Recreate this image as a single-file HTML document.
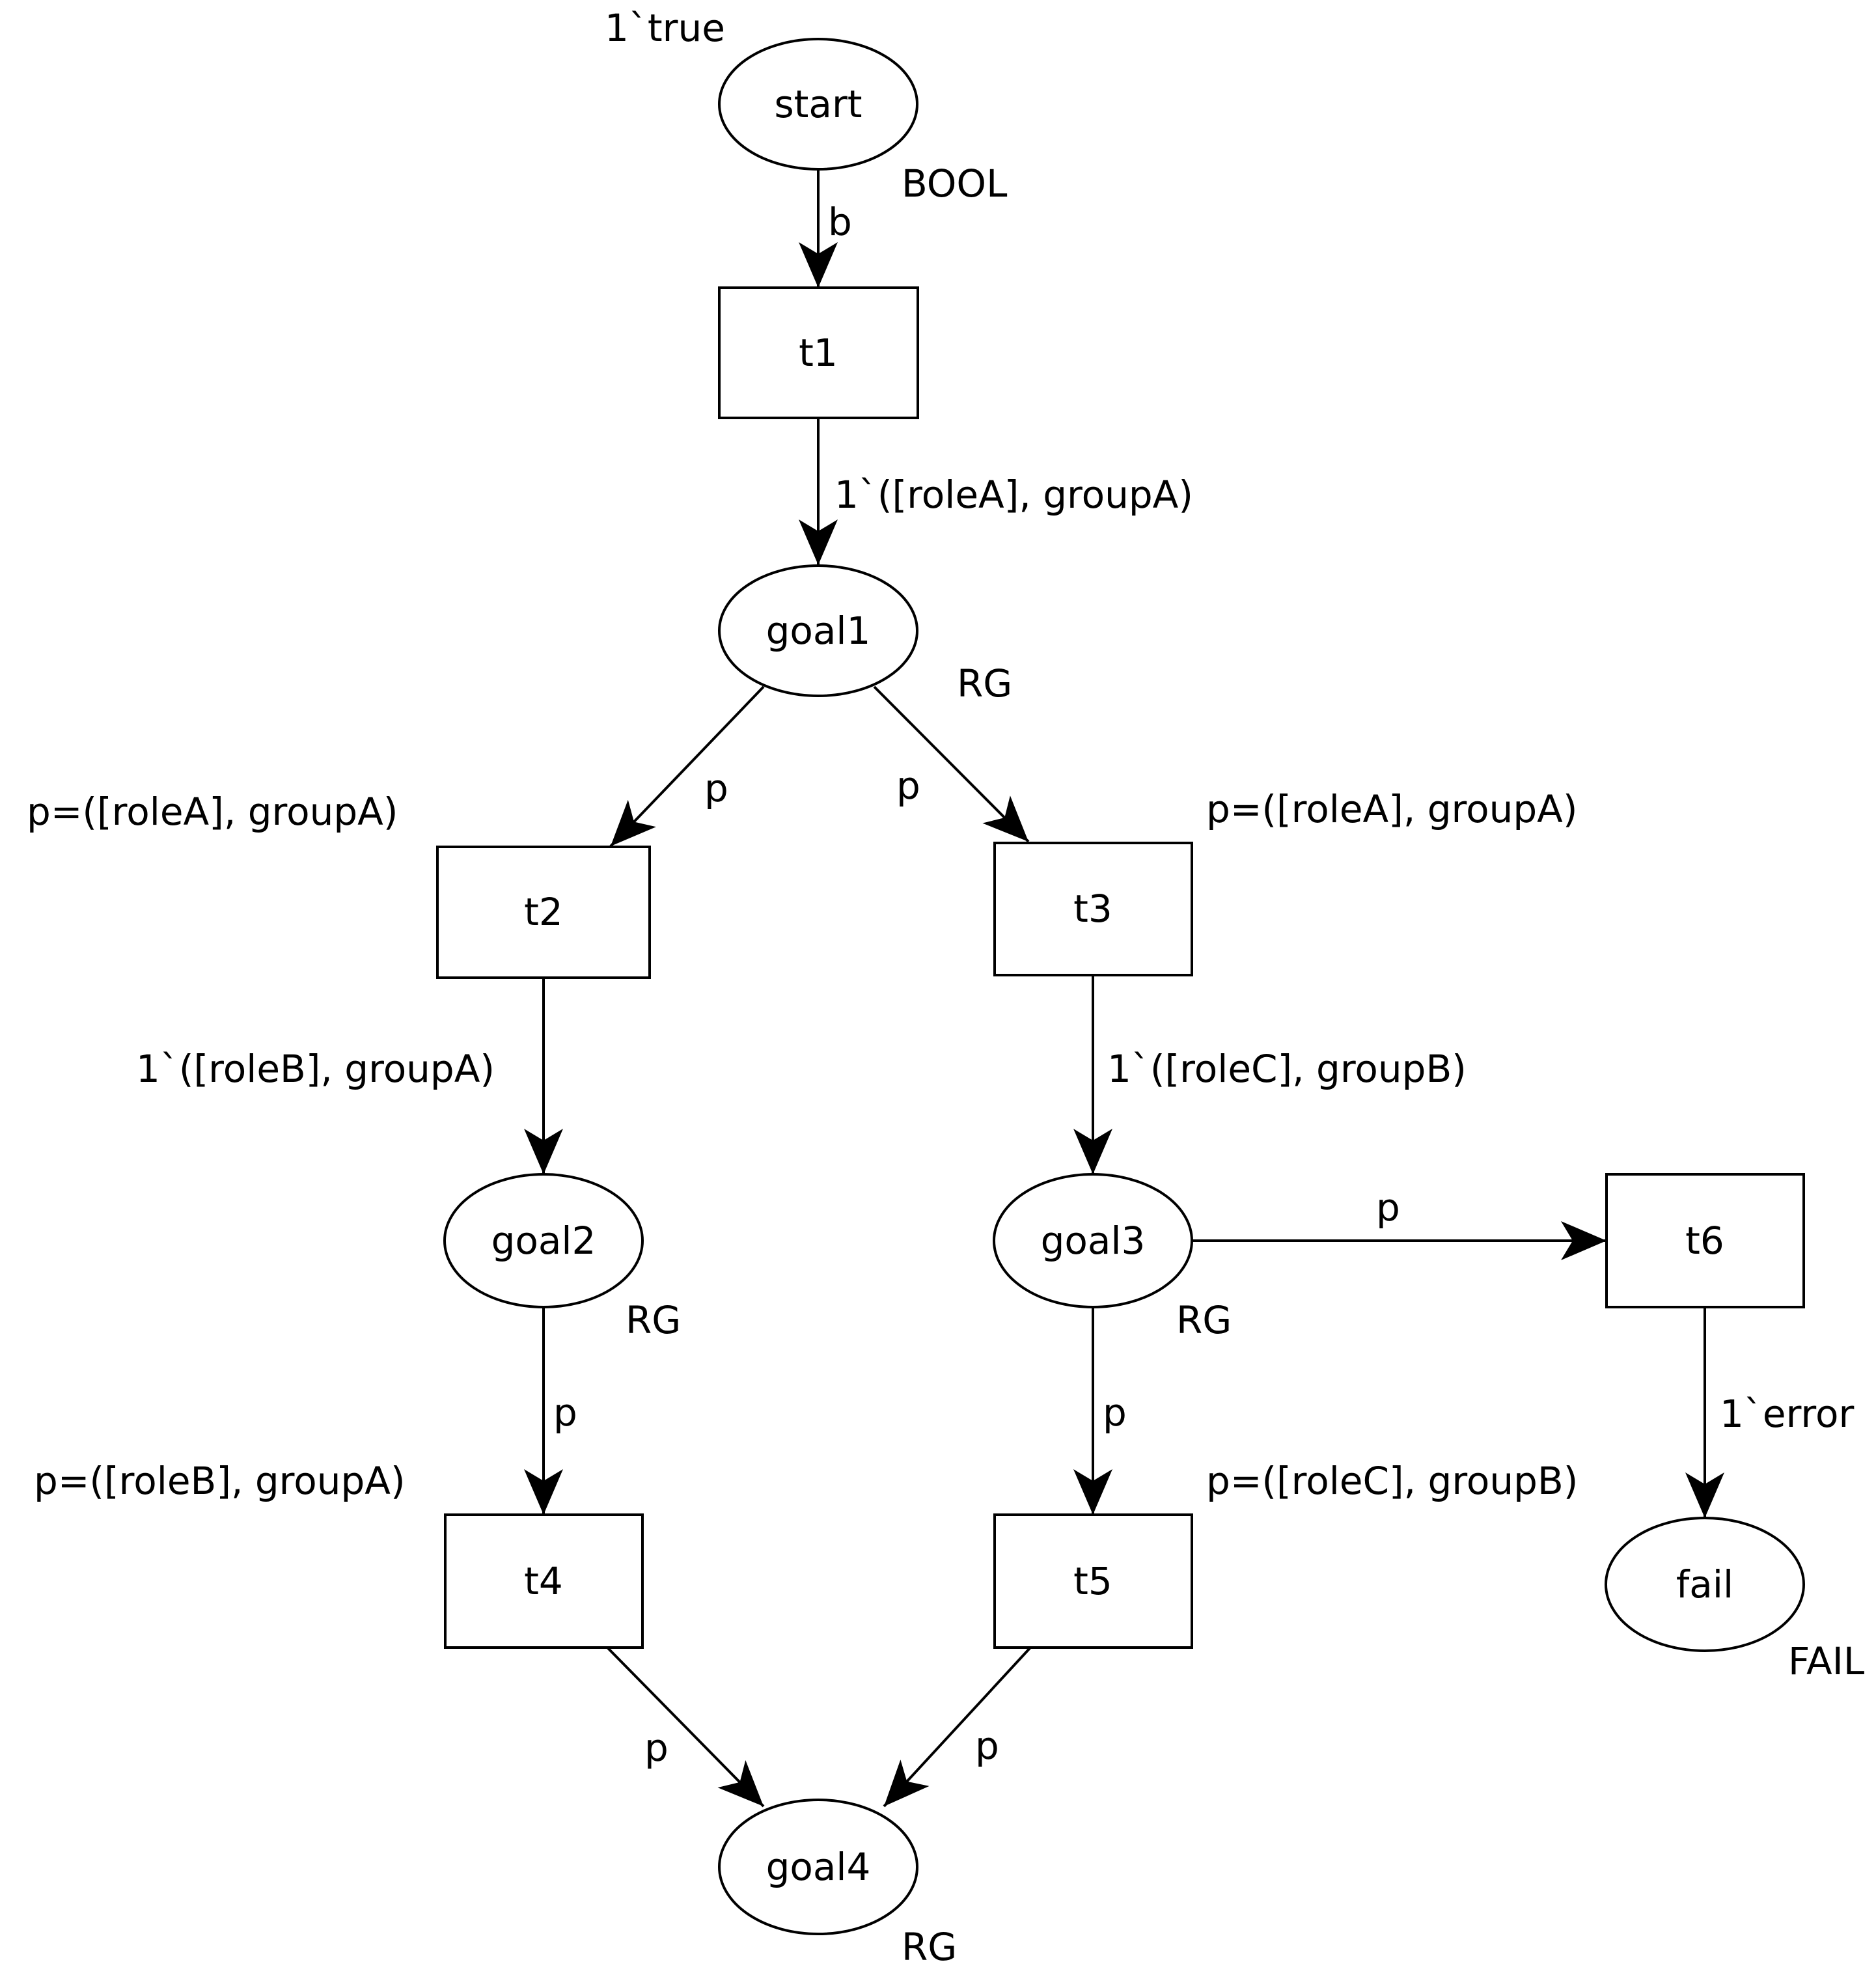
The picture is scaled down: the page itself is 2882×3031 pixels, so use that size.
<!DOCTYPE html>
<html><head><meta charset="utf-8"><style>
html,body{margin:0;padding:0;background:#fff}
svg{display:block}
text{font-family:"DejaVu Sans","Liberation Sans",sans-serif;font-size:58px;fill:#000;dominant-baseline:central}
</style></head><body>
<svg width="2882" height="3031" viewBox="0 0 2882 3031" xmlns="http://www.w3.org/2000/svg">
<defs>
<marker id="a" viewBox="0 0 70 60" refX="70" refY="30" markerWidth="70" markerHeight="60" markerUnits="userSpaceOnUse" orient="auto">
<path d="M0,0 L70,30 L0,60 L18,30 Z" fill="#000"/>
</marker>
</defs>
<g fill="none" stroke="#000" stroke-width="4">
<ellipse cx="1257" cy="160" rx="152" ry="100" fill="#fff"/>
<rect x="1105" y="442" width="305" height="200"/>
<ellipse cx="1257" cy="969" rx="152" ry="100"/>
<rect x="672" y="1301" width="326" height="201"/>
<rect x="1528" y="1295" width="303" height="203"/>
<ellipse cx="835" cy="1906" rx="152" ry="102"/>
<ellipse cx="1679" cy="1906" rx="152" ry="102"/>
<rect x="2468" y="1804" width="303" height="204"/>
<rect x="684" y="2327" width="303" height="204"/>
<rect x="1528" y="2327" width="303" height="204"/>
<ellipse cx="2619" cy="2434" rx="152" ry="102"/>
<ellipse cx="1257" cy="2868" rx="152" ry="103"/>
<g marker-end="url(#a)">
<line x1="1257" y1="260" x2="1257" y2="442"/>
<line x1="1257" y1="642" x2="1257" y2="868"/>
<line x1="1173" y1="1055" x2="938" y2="1300"/>
<line x1="1343" y1="1055" x2="1580" y2="1293"/>
<line x1="835" y1="1502" x2="835" y2="1804"/>
<line x1="1679" y1="1498" x2="1679" y2="1804"/>
<line x1="1831" y1="1906" x2="2468" y2="1906"/>
<line x1="835" y1="2008" x2="835" y2="2327"/>
<line x1="1679" y1="2008" x2="1679" y2="2327"/>
<line x1="2619" y1="2008" x2="2619" y2="2332"/>
<line x1="933" y1="2531" x2="1173" y2="2775"/>
<line x1="1583" y1="2531" x2="1358" y2="2775"/>
</g>
</g>
<g text-anchor="middle">
<text x="1257" y="160">start</text>
<text x="1257" y="542">t1</text>
<text x="1257" y="969">goal1</text>
<text x="835" y="1401">t2</text>
<text x="1679" y="1396">t3</text>
<text x="835" y="1906">goal2</text>
<text x="1679" y="1906">goal3</text>
<text x="2619" y="1906">t6</text>
<text x="835" y="2429">t4</text>
<text x="1679" y="2429">t5</text>
<text x="2619" y="2434">fail</text>
<text x="1257" y="2868">goal4</text>
</g>
<text x="929" y="43">1`true</text>
<text x="1385" y="282">BOOL</text>
<text x="1272" y="341">b</text>
<text x="1282" y="760">1`([roleA], groupA)</text>
<text x="1470" y="1050">RG</text>
<text x="1082" y="1211">p</text>
<text x="1377" y="1207">p</text>
<text x="41" y="1247">p=([roleA], groupA)</text>
<text x="1853" y="1243">p=([roleA], groupA)</text>
<text x="209" y="1642">1`([roleB], groupA)</text>
<text x="1701" y="1642">1`([roleC], groupB)</text>
<text x="2114" y="1855">p</text>
<text x="961" y="2028">RG</text>
<text x="1807" y="2028">RG</text>
<text x="850" y="2170">p</text>
<text x="1694" y="2170">p</text>
<text x="2642" y="2172">1`error</text>
<text x="52" y="2275">p=([roleB], groupA)</text>
<text x="1853" y="2275">p=([roleC], groupB)</text>
<text x="2747" y="2552">FAIL</text>
<text x="990" y="2685">p</text>
<text x="1498" y="2682">p</text>
<text x="1385" y="2991">RG</text>
</svg>
</body></html>
